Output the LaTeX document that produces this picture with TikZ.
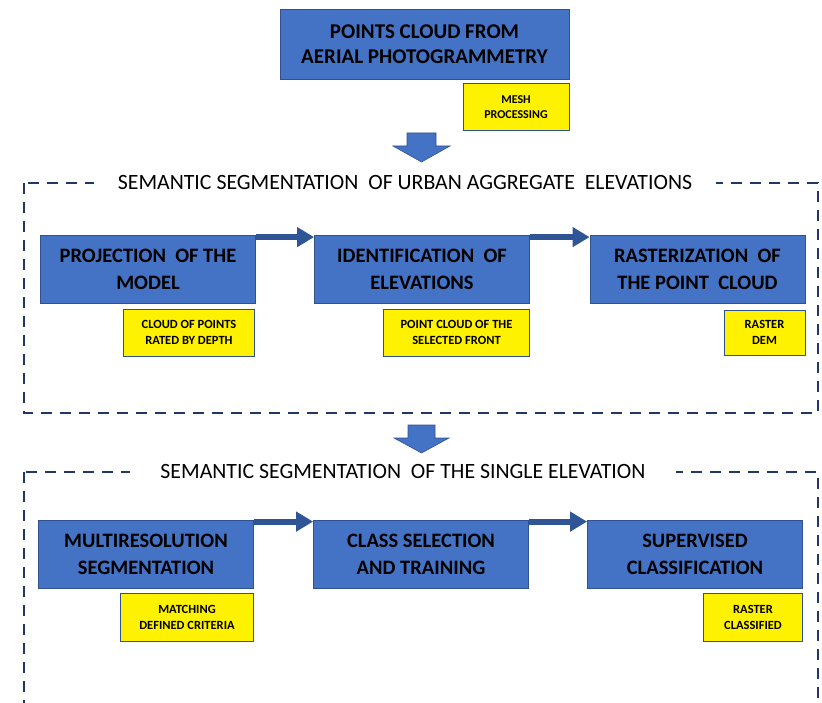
\documentclass[tikz,border=0pt]{standalone}
\usepackage{fontspec}
\setmainfont{Carlito}
\usetikzlibrary{arrows.meta,positioning}
\definecolor{boxblue}{HTML}{4472C4}
\definecolor{boxline}{HTML}{2F528F}
\definecolor{linkblue}{HTML}{2F5597}
\definecolor{framenavy}{HTML}{1F3864}

\begin{document}
\begin{tikzpicture}[x=1pt, y=-1pt,
    stage/.style={shape=rectangle, draw=boxline, line width=0.8pt, fill=boxblue, align=center,
        minimum width=215pt, minimum height=68pt, inner sep=0pt,
        font=\bfseries\fontsize{20.5}{27}\selectfont},
    note/.style={shape=rectangle, draw=boxline, line width=0.8pt, fill=yellow, align=center,
        minimum height=47pt, inner sep=0pt, font=\bfseries\fontsize{12.5}{16}\selectfont},
    frame/.style={draw=framenavy, line width=2.6pt, dash pattern=on 11pt off 8pt},
    title/.style={fill=white, inner xsep=24pt, inner ysep=2pt, font=\fontsize{21.8}{24}\selectfont},
    link/.style={draw=linkblue, line width=6pt, -{Triangle[length=17pt, width=19pt]}},
    bigarrow/.style={fill=boxblue, draw=boxline, line width=0.6pt}]
    \useasboundingbox (0,0) rectangle (822,703);
    \clip (0,0) rectangle (822,703);

    \node[stage, minimum width=289pt, minimum height=70pt, font=\bfseries\fontsize{21}{25}\selectfont] (0) at (424.5,44) {POINTS CLOUD FROM\\AERIAL PHOTOGRAMMETRY};
    \node[note, minimum width=106pt, font=\bfseries\fontsize{12}{15}\selectfont, below left=4pt and 0pt of 0.south east] (m0) {MESH\\PROCESSING};
    \fill[bigarrow] (407,133) -- (436,133) -- (436,146) -- (450,146) -- (421.5,162) -- (393,146) -- (407,146) -- cycle;

    \draw[frame] (24,183) rectangle (818,413);
    \node[title] (t1) at (405,183) {SEMANTIC SEGMENTATION\ \ OF URBAN AGGREGATE\ \ ELEVATIONS};

    \node[stage] (1) at (148,269.5) {PROJECTION\ \ OF THE\\MODEL};
    \node[stage] (2) at (422,269.5) {IDENTIFICATION\ \ OF\\ELEVATIONS};
    \node[stage] (3) at (697.5,269.5) {RASTERIZATION\ \ OF\\THE POINT\ \ CLOUD};
    \node[note, minimum width=131pt, below left=5pt and 1pt of 1.south east] (m1) {CLOUD OF POINTS\\RATED BY DEPTH};
    \node[note, minimum width=146pt, below left=5pt and 0pt of 2.south east] (m2) {POINT CLOUD OF THE\\SELECTED FRONT};
    \node[note, minimum width=81pt, minimum height=45pt, below left=6pt and 0pt of 3.south east] (m3) {RASTER\\DEM};
    \draw[link] ([yshift=-2pt]1.north east) -- ([yshift=-2pt]2.north west);
    \draw[link] ([yshift=-2pt]2.north east) -- ([yshift=-2pt]3.north west);

    \fill[bigarrow] (408,425) -- (435,425) -- (435,438) -- (449,438) -- (421.5,453) -- (394,438) -- (408,438) -- cycle;

    \draw[frame] (24,472) rectangle (818,720);
    \node[title, inner xsep=30pt] (t2) at (403,471) {SEMANTIC SEGMENTATION\ \ OF THE SINGLE ELEVATION};

    \node[stage] (4) at (146,554) {MULTIRESOLUTION\\SEGMENTATION};
    \node[stage] (5) at (421,554) {CLASS SELECTION\\AND TRAINING};
    \node[stage] (6) at (695,554) {SUPERVISED\\CLASSIFICATION};
    \node[note, minimum width=133pt, minimum height=48pt, below left=5pt and 0pt of 4.south east] (m4) {MATCHING\\DEFINED CRITERIA};
    \node[note, minimum width=99pt, minimum height=48pt, below left=5pt and 0pt of 6.south east] (m6) {RASTER\\CLASSIFIED};
    \draw[link] ([yshift=-2pt]4.north east) -- ([yshift=-2pt]5.north west);
    \draw[link] ([yshift=-2pt]5.north east) -- ([yshift=-2pt]6.north west);
\end{tikzpicture}
\end{document}
